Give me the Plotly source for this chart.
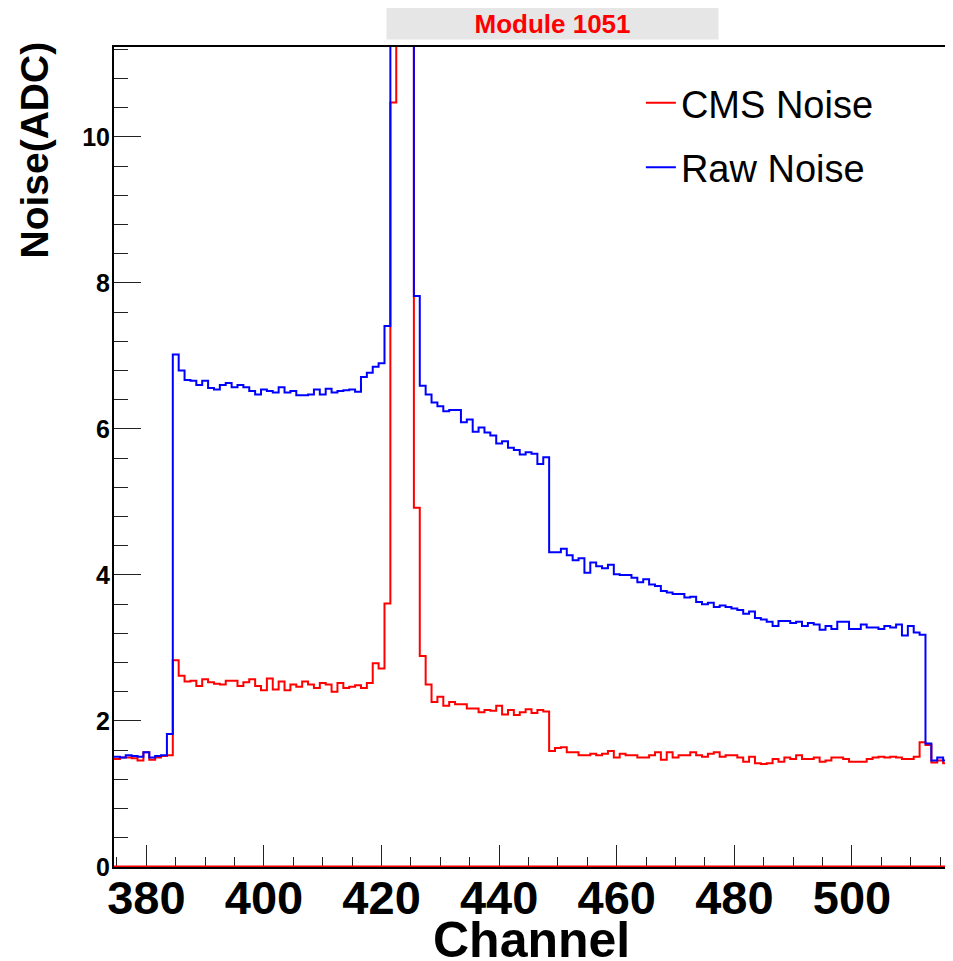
import plotly.graph_objects as go

# ---- data ----
channels = list(range(375, 517))

cms_noise = [
    1.48, 1.50, 1.50, 1.49, 1.46, 1.57, 1.47, 1.50, 1.52, 1.53,   # 375-384
    2.83, 2.62, 2.54, 2.55, 2.48, 2.57, 2.53, 2.51, 2.50, 2.55,   # 385-394
    2.55, 2.48, 2.53, 2.57, 2.48, 2.42, 2.58, 2.43, 2.54, 2.42,   # 395-404
    2.50, 2.47, 2.54, 2.50, 2.45, 2.52, 2.50, 2.40, 2.52, 2.45,   # 405-414
    2.47, 2.49, 2.45, 2.52, 2.79, 2.72, 3.61, 10.47, 17.0, 19.0,  # 415-424
    13.0, 4.92, 2.89, 2.50, 2.26, 2.33, 2.21, 2.26, 2.23, 2.23,   # 425-434
    2.17, 2.17, 2.12, 2.15, 2.14, 2.21, 2.09, 2.15, 2.08, 2.12,   # 435-444
    2.16, 2.11, 2.15, 2.13, 1.59, 1.63, 1.64, 1.57, 1.57, 1.53,   # 445-454
    1.53, 1.55, 1.53, 1.55, 1.59, 1.50, 1.55, 1.53, 1.53, 1.50,   # 455-464
    1.50, 1.53, 1.57, 1.47, 1.57, 1.50, 1.53, 1.53, 1.57, 1.53,   # 465-474
    1.51, 1.55, 1.57, 1.51, 1.53, 1.53, 1.50, 1.44, 1.51, 1.42,   # 475-484
    1.41, 1.42, 1.48, 1.44, 1.50, 1.48, 1.53, 1.48, 1.48, 1.50,   # 485-494
    1.44, 1.46, 1.50, 1.50, 1.48, 1.44, 1.44, 1.44, 1.48, 1.50,   # 495-504
    1.51, 1.50, 1.51, 1.50, 1.48, 1.48, 1.51, 1.71, 1.67, 1.43,   # 505-514
    1.46, 1.42,                                                   # 515-516
]

raw_noise = [
    1.51, 1.50, 1.53, 1.52, 1.51, 1.57, 1.50, 1.52, 1.53, 1.82,   # 375-384
    7.02, 6.80, 6.67, 6.66, 6.60, 6.66, 6.56, 6.54, 6.60, 6.63,   # 385-394
    6.57, 6.60, 6.57, 6.52, 6.47, 6.54, 6.52, 6.50, 6.57, 6.50,   # 395-404
    6.52, 6.46, 6.46, 6.47, 6.54, 6.47, 6.55, 6.50, 6.52, 6.53,   # 405-414
    6.54, 6.51, 6.71, 6.77, 6.85, 6.90, 7.41, 15.0, 24.0, 22.0,   # 415-424
    16.0, 7.82, 6.59, 6.47, 6.36, 6.31, 6.24, 6.26, 6.26, 6.09,   # 425-434
    6.13, 5.96, 6.02, 5.95, 5.91, 5.80, 5.83, 5.74, 5.71, 5.65,   # 435-444
    5.68, 5.66, 5.52, 5.61, 4.31, 4.31, 4.36, 4.27, 4.20, 4.23,   # 445-454
    4.03, 4.17, 4.12, 4.09, 4.14, 4.01, 4.00, 4.00, 3.96, 3.90,   # 455-464
    3.94, 3.87, 3.85, 3.78, 3.76, 3.74, 3.74, 3.69, 3.70, 3.63,   # 465-474
    3.60, 3.62, 3.56, 3.58, 3.56, 3.54, 3.52, 3.47, 3.50, 3.41,   # 475-484
    3.39, 3.36, 3.30, 3.37, 3.37, 3.34, 3.36, 3.30, 3.34, 3.32,   # 485-494
    3.25, 3.30, 3.26, 3.36, 3.36, 3.26, 3.26, 3.32, 3.28, 3.28,   # 495-504
    3.26, 3.30, 3.28, 3.32, 3.17, 3.30, 3.21, 3.18, 1.69, 1.46,   # 505-514
    1.50, 1.46,                                                   # 515-516
]

x_tick_values = [380, 400, 420, 440, 460, 480, 500]
y_tick_values = [0, 2, 4, 6, 8, 10]

series_names = ["CMS Noise", "Raw Noise"]
title_text = "Module 1051"
x_title = "Channel"
y_title = "Noise(ADC)"

# ---- histogram step geometry (bin edges from channel centres) ----
edges = [c - 0.5 for c in channels] + [channels[-1] + 0.5]


def steps(values):
    return list(values) + [values[-1]]


FONT = "Liberation Sans, Arial, sans-serif"

fig = go.Figure()
fig.add_trace(go.Scatter(
    x=edges, y=steps(cms_noise), mode="lines", name=series_names[0],
    line=dict(color="#ff0000", width=2, shape="hv"),
    legendrank=1, legendgroup="cms",
))
fig.add_trace(go.Scatter(
    x=edges, y=steps(raw_noise), mode="lines", name=series_names[1],
    line=dict(color="#0000ff", width=2, shape="hv"),
    legendrank=2, legendgroup="raw",
))

fig.update_layout(
    width=945, height=953,
    margin=dict(l=106, r=4, t=39, b=94),
    paper_bgcolor="white", plot_bgcolor="white",
    showlegend=True,
    legend=dict(
        x=0.631, xanchor="left", y=0.970, yanchor="top",
        bgcolor="rgba(0,0,0,0)", borderwidth=0,
        font=dict(family=FONT, size=38, color="black"),
        tracegroupgap=12, traceorder="grouped",
    ),
    xaxis=dict(
        range=[edges[0], edges[-1]],
        tickmode="array", tickvals=x_tick_values,
        ticks="inside", ticklen=22, tickwidth=1.3, tickcolor="#222",
        minor=dict(dtick=5, tick0=380, ticks="inside", ticklen=10,
                   tickwidth=1.3, tickcolor="#222"),
        showgrid=False, zeroline=False,
        showline=True, linecolor="black", linewidth=2, mirror=True,
        ticklabelstandoff=-11,
        tickfont=dict(family=FONT, size=47, color="black", weight="bold"),
        automargin=False,
    ),
    yaxis=dict(
        range=[0, 11.23],
        tickmode="array", tickvals=y_tick_values,
        ticks="inside", ticklen=27, tickwidth=1.3, tickcolor="#222",
        minor=dict(dtick=0.4, tick0=0, ticks="inside", ticklen=14,
                   tickwidth=1.3, tickcolor="#222"),
        showgrid=False, zeroline=False,
        showline=True, linecolor="black", linewidth=2, mirror=True,
        ticklabelstandoff=-3,
        tickfont=dict(family=FONT, size=25, color="black", weight="bold"),
        automargin=False,
    ),
    shapes=[dict(type="line", xref="paper", x0=0, x1=1, yref="y", y0=0, y1=0,
                 line=dict(color="#ff0000", width=3), layer="above")],
    annotations=[
        dict(text=title_text, xref="paper", yref="paper",
             x=0.5251, y=1.0287, xanchor="center", yanchor="middle",
             showarrow=False, width=331, height=31, borderpad=0,
             bgcolor="#e6e6e6",
             font=dict(family=FONT, size=26, color="#ff0000", weight="bold")),
        dict(text=y_title, xref="paper", yref="paper", textangle=-90,
             x=-0.0946, y=1.0085, xanchor="center", yanchor="top",
             showarrow=False,
             font=dict(family=FONT, size=39, color="black", weight="bold")),
        dict(text=x_title, xref="paper", yref="paper",
             x=0.5, y=-0.089, xanchor="center", yanchor="middle",
             showarrow=False, borderpad=0,
             font=dict(family=FONT, size=50, color="black", weight="bold")),
    ],
)

fig.write_html("out.html")
